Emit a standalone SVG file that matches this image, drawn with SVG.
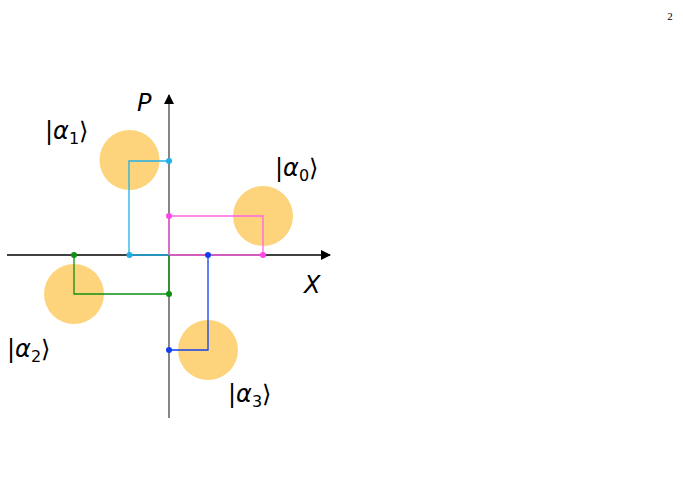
<svg xmlns="http://www.w3.org/2000/svg" width="683" height="486" viewBox="0 0 683 486">
<style>
.c{fill:#fdd47c}
.l{fill:none;stroke-width:1.3}
.t{font-family:"DejaVu Sans",sans-serif;font-size:24px;fill:#000}
.s{font-size:16px}
.d{stroke:none}
</style>
<defs><marker id="a" viewBox="0 0 10 10" refX="9" refY="5" markerWidth="10" markerHeight="10" markerUnits="userSpaceOnUse" orient="auto"><path d="M0 0L10 5L0 10z" fill="#000"/></marker></defs>
<rect width="683" height="486" fill="#fff"/>
<text x="670" y="20" font-family="Liberation Serif,serif" font-size="11" text-anchor="middle">2</text>
<g id="n0"><circle class="c" cx="263" cy="216" r="30"/><text class="t" x="275" y="176"><tspan>|</tspan><tspan font-style="italic">α</tspan><tspan class="s" dy="5">0</tspan><tspan dy="-5">⟩</tspan></text></g>
<g id="n1"><circle class="c" cx="129.5" cy="160" r="30"/><text class="t" x="45" y="139"><tspan>|</tspan><tspan font-style="italic">α</tspan><tspan class="s" dy="5">1</tspan><tspan dy="-5">⟩</tspan></text></g>
<g id="n2"><circle class="c" cx="74" cy="294" r="30"/><text class="t" x="7" y="357"><tspan>|</tspan><tspan font-style="italic">α</tspan><tspan class="s" dy="5">2</tspan><tspan dy="-5">⟩</tspan></text></g>
<g id="n3"><circle class="c" cx="208" cy="350" r="30"/><text class="t" x="228" y="402"><tspan>|</tspan><tspan font-style="italic">α</tspan><tspan class="s" dy="5">3</tspan><tspan dy="-5">⟩</tspan></text></g>
<g id="axes">
<line x1="7" y1="255" x2="330" y2="255" stroke="#000" stroke-width="1.3" marker-end="url(#a)"/>
<line x1="169" y1="418" x2="169" y2="95" stroke="#444" stroke-width="1.3" marker-end="url(#a)"/>
<text class="t" x="137" y="111" font-style="italic" font-family="Liberation Sans,sans-serif" font-size="27">P</text>
<text class="t" x="304" y="293" font-style="italic" font-family="Liberation Sans,sans-serif" font-size="27">X</text>
</g>
<g id="connectors">
<polyline class="l" stroke="#20b0e8" points="169,161 129,161 129,255 169,255"/>
<polyline class="l" stroke="#ff66e8" points="169,255 169,216 263,216 263,255 169,255"/>
<polyline class="l" stroke="#109010" points="74,255 74,294 169,294 169,255"/>
<polyline class="l" stroke="#1040f0" points="208,255 208,350 169,350"/>
<circle class="d" fill="#20b0e8" cx="169" cy="161" r="3"/><circle class="d" fill="#20b0e8" cx="129.5" cy="255" r="3"/>
<circle class="d" fill="#ff44e8" cx="169" cy="216" r="3"/><circle class="d" fill="#ff44e8" cx="263" cy="255" r="3"/>
<circle class="d" fill="#109010" cx="74" cy="255" r="3"/><circle class="d" fill="#109010" cx="169" cy="294" r="3"/>
<circle class="d" fill="#1040f0" cx="208" cy="255" r="3"/><circle class="d" fill="#1040f0" cx="169" cy="350" r="3"/>
</g>
</svg>
